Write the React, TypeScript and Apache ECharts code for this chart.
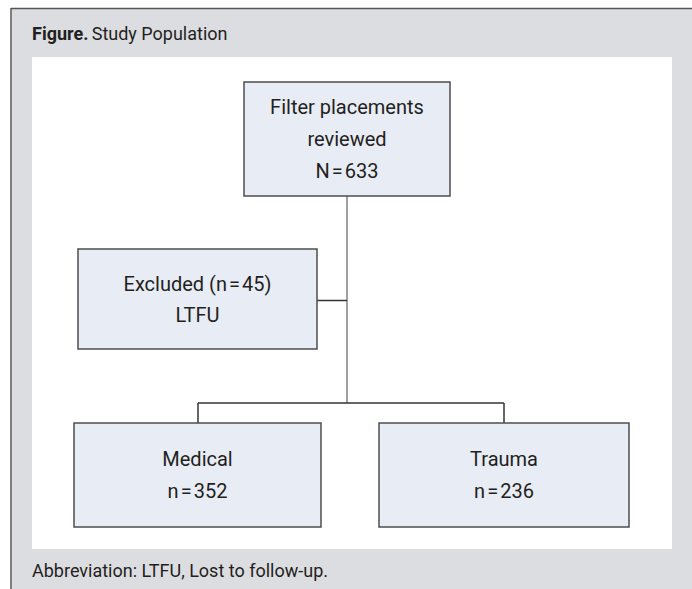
import React, { useEffect, useRef } from "react";
import * as echarts from "echarts";

const figureLabel = "Figure.";
const figureTitle = "Study Population";
const footnote = "Abbreviation: LTFU, Lost to follow-up.";
const totalReviewed = 633;
const excludedCount = 45;
const excludedReason = "LTFU";
const groupNames = ["Medical", "Trauma"];
const groupCounts = [352, 236];

const EQ = "\u200A=\u200A";
const FONT = "Roboto, 'Noto Sans', sans-serif";
const BOX_FILL = "#e8ecf5";
const BOX_STROKE = "#4d4d4d";
const TEXT = "#231f20";

function box(x: number, y: number, w: number, h: number, lines: string[], lineGap: number) {
  const cx = x + w / 2;
  const cy = y + h / 2;
  const n = lines.length;
  const children: any[] = [
    {
      type: "rect",
      shape: { x, y, width: w, height: h },
      style: { fill: BOX_FILL, stroke: BOX_STROKE, lineWidth: 1.5 },
    },
  ];
  lines.forEach((t, i) => {
    children.push({
      type: "text",
      x: cx,
      y: cy + (i - (n - 1) / 2) * lineGap,
      style: {
        text: t,
        fill: TEXT,
        font: `20px ${FONT}`,
        textAlign: "center",
        textVerticalAlign: "middle",
      },
    });
  });
  return children;
}

function line(x1: number, y1: number, x2: number, y2: number, color: string) {
  return {
    type: "line",
    shape: { x1, y1, x2, y2 },
    style: { stroke: color, lineWidth: 1.5 },
  };
}

export default function App() {
  const ref = useRef<HTMLDivElement>(null);
  useEffect(() => {
    document.body.style.margin = "0";
    const chart = echarts.init(ref.current!, null, { renderer: "svg" });
    const elements: any[] = [
      { type: "rect", shape: { x: 12, y: 9, width: 680, height: 580 }, style: { fill: "#dcdde0" } },
      line(11, 8.5, 692, 8.5, "#555555"),
      line(11, 8, 11, 589, "#555555"),
      {
        type: "text",
        x: 32,
        y: 33,
        style: {
          text: `{b|${figureLabel}} {r|${figureTitle}}`,
          textVerticalAlign: "middle",
          rich: {
            b: { font: `bold 18px ${FONT}`, fill: TEXT },
            r: { font: `18px ${FONT}`, fill: TEXT },
          },
        },
      },
      { type: "rect", shape: { x: 32, y: 57, width: 640, height: 492 }, style: { fill: "#ffffff" } },
      // connectors
      line(347, 196, 347, 403, "#808080"),
      line(317, 300.5, 347, 300.5, "#333333"),
      line(198, 403, 504, 403, "#333333"),
      line(198, 403, 198, 423, "#333333"),
      line(504, 403, 504, 423, "#333333"),
      ...box(244, 82, 206, 114, ["Filter placements", "reviewed", `N${EQ}${totalReviewed}`], 32),
      ...box(78, 249, 239, 100, [`Excluded (n${EQ}${excludedCount})`, excludedReason], 31),
      ...box(74, 423, 247, 104, [groupNames[0], `n${EQ}${groupCounts[0]}`], 32),
      ...box(379, 423, 250, 104, [groupNames[1], `n${EQ}${groupCounts[1]}`], 32),
      {
        type: "text",
        x: 32,
        y: 570,
        style: { text: footnote, fill: TEXT, font: `18px ${FONT}`, textVerticalAlign: "middle" },
      },
    ];
    chart.setOption({ animation: false, graphic: { elements } });
    return () => chart.dispose();
  }, []);
  return <div ref={ref} style={{ width: 692, height: 589 }} />;
}
